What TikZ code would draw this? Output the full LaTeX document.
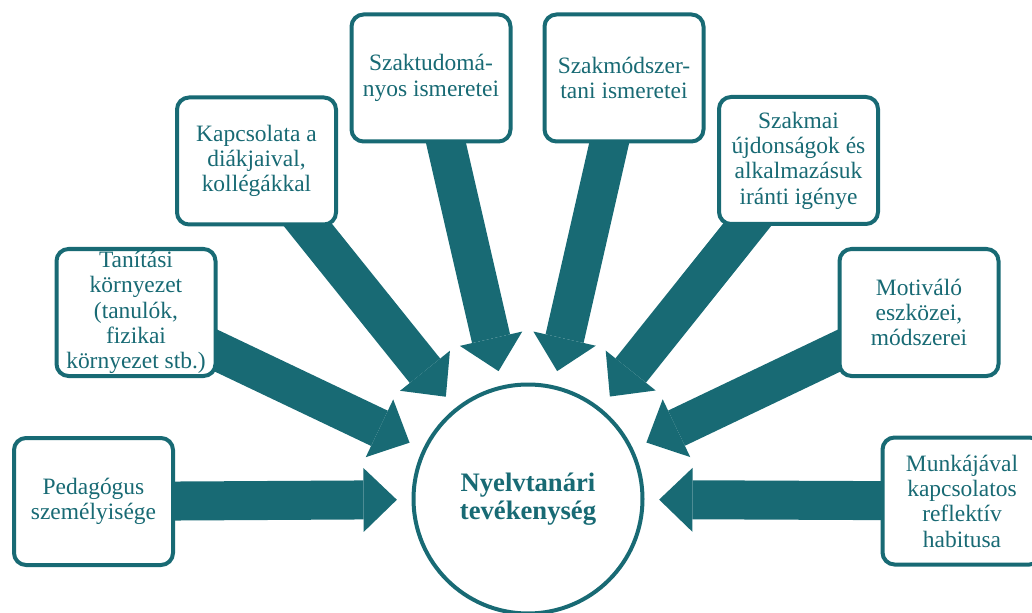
\documentclass[tikz,border=0pt]{standalone}
\usepackage{fontspec}
\setmainfont{Liberation Serif}
\usetikzlibrary{arrows.meta,backgrounds}
\definecolor{T1}{HTML}{186A74}

\begin{document}
\begin{tikzpicture}[x=0.75pt,y=-0.75pt,
    box/.style={draw=T1,line width=3pt,rounded corners=9pt,fill=white,text=T1,
        minimum width=119.25pt,minimum height=95.25pt,align=center,inner sep=1pt,
        font=\fontsize{17.6}{19}\selectfont},
    bigarrow/.style={draw=T1,line width=29.25pt,shorten >=11pt,
        -{Triangle[length=25pt,width=48pt,line width=0pt]}}]
\useasboundingbox (0,0) rectangle (1032,613);

% Centre:
\node [circle,draw=T1,line width=3pt,fill=white,text=T1,minimum size=171.75pt,
    align=center,font=\fontsize{20}{21}\selectfont\bfseries] (hub) at (528,499)
    {Nyelvtanári\\tevékenység};

% Boxes, left side
\node [box] (box_ped) at (93.5,501.5) {Pedagógus\\személyisége};
\node [box] (box_tan) at (136,312.5) {Tanítási\\környezet\\(tanulók,\\fizikai\\környezet stb.)};
\node [box] (box_kap) at (256.5,161) {Kapcsolata a\\diákjaival,\\kollégákkal};
\node [box] (box_szt) at (431,78) {Szaktudomá-\\nyos ismeretei};

% Boxes, right side
\node [box] (box_szm) at (624,78) {Szakmódszer-\\tani ismeretei};
\node [box] (box_uj) at (798.5,160.5) {Szakmai\\újdonságok és\\alkalmazásuk\\iránti igénye};
\node [box] (box_mot) at (919,312.5) {Motiváló\\eszközei,\\módszerei};
\node [box] (box_mun) at (962,501) {Munkájával\\kapcsolatos\\reflektív\\habitusa};

% Block arrows into the centre
\begin{scope}[on background layer]
\foreach \b in {ped,tan,kap,szt,szm,uj,mot,mun}
    \draw [bigarrow] (box_\b.center) -- (hub);
\end{scope}
\end{tikzpicture}
\end{document}
